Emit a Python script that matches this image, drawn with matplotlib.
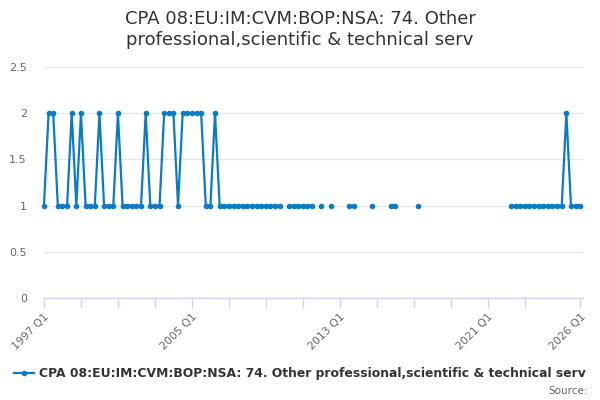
import numpy as np
import matplotlib
matplotlib.use("Agg")
import matplotlib.pyplot as plt
from matplotlib.lines import Line2D

nan = np.nan
series_name = "CPA 08:EU:IM:CVM:BOP:NSA: 74. Other professional,scientific & technical serv"
title_text = "CPA 08:EU:IM:CVM:BOP:NSA: 74. Other\nprofessional,scientific & technical serv"

years = list(range(1997, 2027))
values_by_year = {
    1997: [1, 2, 2, 1],
    1998: [1, 1, 2, 1],
    1999: [2, 1, 1, 1],
    2000: [2, 1, 1, 1],
    2001: [2, 1, 1, 1],
    2002: [1, 1, 2, 1],
    2003: [1, 1, 2, 2],
    2004: [2, 1, 2, 2],
    2005: [2, 2, 2, 1],
    2006: [1, 2, 1, 1],
    2007: [1, 1, 1, 1],
    2008: [1, 1, 1, 1],
    2009: [1, 1, 1, 1],
    2010: [nan, 1, 1, 1],
    2011: [1, 1, 1, nan],
    2012: [1, nan, 1, nan],
    2013: [nan, nan, 1, 1],
    2014: [nan, nan, nan, 1],
    2015: [nan, nan, nan, 1],
    2016: [1, nan, nan, nan],
    2017: [nan, 1, nan, nan],
    2018: [nan, nan, nan, nan],
    2019: [nan, nan, nan, nan],
    2020: [nan, nan, nan, nan],
    2021: [nan, nan, nan, nan],
    2022: [nan, 1, 1, 1],
    2023: [1, 1, 1, 1],
    2024: [1, 1, 1, 1],
    2025: [1, 2, 1, 1],
    2026: [1],
}

categories = []
values = []
for y in years:
    for q, v in enumerate(values_by_year[y]):
        categories.append(f"{y} Q{q + 1}")
        values.append(v)
values = np.array(values, dtype=float)
x = np.arange(len(categories))

labelled = ["1997 Q1", "2005 Q1", "2013 Q1", "2021 Q1", "2026 Q1"]
tick_cats = [f"{y} Q1" for y in range(1997, 2025, 2)] + ["2026 Q1"]
y_ticks = [0, 0.5, 1, 1.5, 2, 2.5]
y_labels = ["0", "0.5", "1", "1.5", "2", "2.5"]

color = "#0a7bc4"
grid_c = "#e6e6e6"
axis_c = "#ccd6eb"
text_c = "#333333"
lab_c = "#666666"

fig = plt.figure(figsize=(6, 4), dpi=100)
ax = fig.add_axes([43.5 / 600, 1 - 298 / 400, (583 - 43.5) / 600, (298 - 67) / 400])

ax.plot(x, values, color=color, lw=1.6, marker="o", ms=3.0, mec=color, mfc=color, zorder=3, clip_on=False)

ax.set_xlim(-0.1, 116.6)
ax.set_ylim(0, 2.5)
ax.set_yticks(y_ticks)
ax.set_yticklabels(y_labels)
ax.grid(axis="y", color=grid_c, lw=1)
ax.set_axisbelow(True)
for s in ["top", "right", "left"]:
    ax.spines[s].set_visible(False)
ax.spines["bottom"].set_color(axis_c)
ax.spines["bottom"].set_linewidth(1)
ax.tick_params(axis="y", length=0, pad=12, labelsize=8, labelcolor=lab_c)

tick_pos = [categories.index(c) for c in tick_cats]
ax.set_xticks(tick_pos)
ax.set_xticklabels([c if c in labelled else "" for c in tick_cats], rotation=45,
                   ha="right", va="top", rotation_mode="anchor")
ax.tick_params(axis="x", length=7, width=1, color=axis_c, labelsize=7.8, labelcolor=lab_c, pad=3)

fig.text(0.5, 0.975, title_text, ha="center", va="top", fontsize=13, color=text_c, linespacing=1.2)

handle = Line2D([], [], color=color, lw=1.6, marker="o", ms=3.0)
leg = fig.legend([handle], [series_name], loc="center", bbox_to_anchor=(0.5, 1 - 374 / 400),
                 frameon=False, handlelength=1.6, handletextpad=0.4,
                 prop={"size": 8.9, "weight": "bold"})
for t in leg.get_texts():
    t.set_color(text_c)

fig.text(588 / 600, 1 - 391 / 400, "Source:", ha="right", va="center", fontsize=7.5, color=lab_c)

fig.savefig("out.png", dpi=100)
